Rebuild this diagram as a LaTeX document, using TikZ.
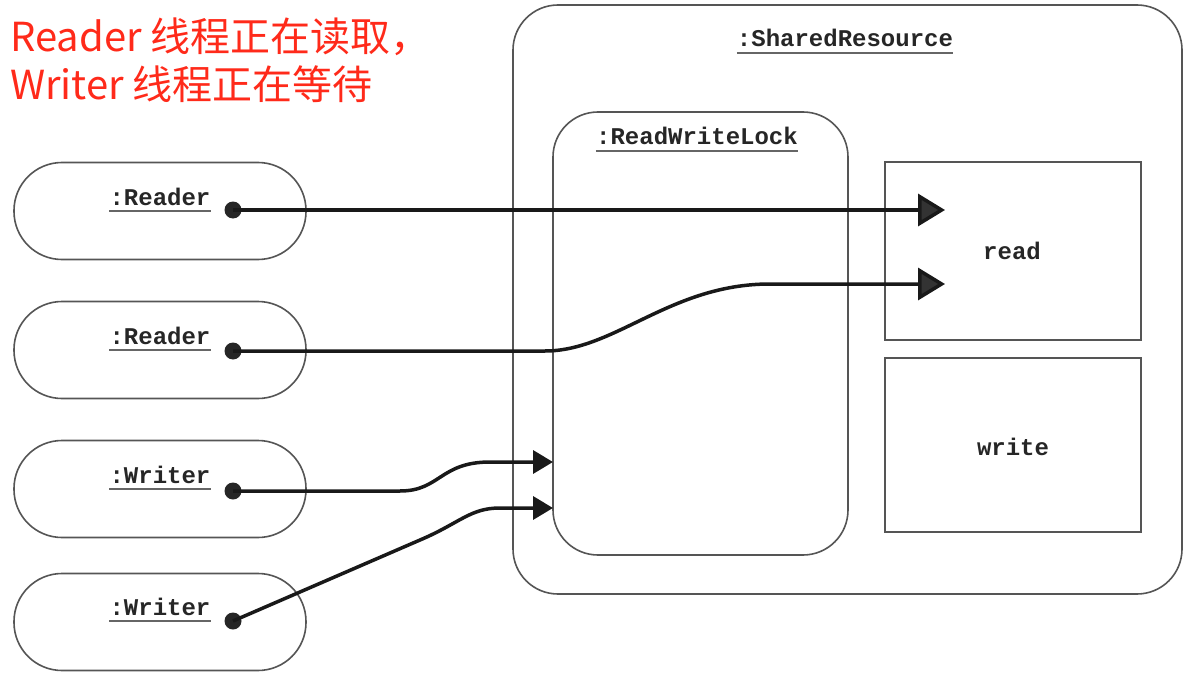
\documentclass[tikz,border=0pt]{standalone}
\usepackage{fontspec}
\newfontfamily\cjk{Noto Sans CJK SC}
\newfontfamily\monob{Liberation Mono}
\usetikzlibrary{arrows.meta}
\definecolor{redtxt}{HTML}{FF2A1A}
\definecolor{boxline}{HTML}{555555}
\definecolor{tipgray}{HTML}{333333}
\tikzset{
  boxstyle/.style={draw=boxline, line width=1.6pt, fill=none, inner sep=0pt},
  pill/.style={boxstyle, rounded corners=48pt, minimum width=292pt, minimum height=97pt},
  lbl/.style={font=\monob\bfseries\fontsize{24}{24}\selectfont, text=black!85, inner sep=0pt},
  uline/.style={draw=black!60, line width=1.6pt},
  dotn/.style={circle, fill=black!85, minimum size=17pt, inner sep=0pt},
  conn/.style={line width=3.5pt, black!90},
  bigtip/.style={conn, -{Triangle[length=27pt, width=32pt, fill=tipgray]}},
  smalltip/.style={conn, -{Triangle[length=20pt, width=23pt]}},
  redlbl/.style={font=\cjk\fontsize{40}{40}\selectfont, text=redtxt, inner sep=0pt, anchor=base west}
}
\begin{document}
\begin{tikzpicture}[x=1pt, y=-1pt]
\useasboundingbox (0,0) rectangle (1191,682);
\fill[white] (0,0) rectangle (1191,682);

% red title
\node[redlbl] (t1) at (10,52) {Reader 线程正在读取，};
\node[redlbl] (t2) at (10,100) {Writer 线程正在等待};

% shared resource
\node[boxstyle, rounded corners=45pt, minimum width=669pt, minimum height=589pt] (sr) at (847.5,299.5) {};
\node[lbl, anchor=base] (srl) at (845,47) {:SharedResource};
\draw[uline] ([yshift=-6pt]srl.base west) -- ([yshift=-6pt]srl.base east);

% read write lock
\node[boxstyle, rounded corners=45pt, minimum width=295pt, minimum height=443pt] (rwl) at (700.5,333.5) {};
\node[lbl, anchor=base] (rwll) at (697,145) {:ReadWriteLock};
\draw[uline] ([yshift=-6pt]rwll.base west) -- ([yshift=-6pt]rwll.base east);

% read / write boxes
\node[boxstyle, minimum width=256pt, minimum height=178pt] (rd) at (1013,251) {};
\node[lbl, anchor=base] (rdl) at (1012,259) {read};
\node[boxstyle, minimum width=256pt, minimum height=174pt] (wr) at (1013,445) {};
\node[lbl, anchor=base] (wrl) at (1013,455) {write};

% threads
\node[pill] (r1) at (160,211) {};
\node[pill] (r2) at (160,350) {};
\node[pill] (w1) at (160,489) {};
\node[pill] (w2) at (160,622) {};
\node[lbl, anchor=base] (r1l) at (160,205) {:Reader};
\node[lbl, anchor=base] (r2l) at (160,344) {:Reader};
\node[lbl, anchor=base] (w1l) at (160,483) {:Writer};
\node[lbl, anchor=base] (w2l) at (160,615) {:Writer};
\foreach \n in {r1l,r2l,w1l,w2l}{
  \draw[uline] ([yshift=-6pt]\n.base west) -- ([yshift=-6pt]\n.base east);
}
\node[dotn] (d1) at (233,210) {};
\node[dotn] (d2) at (233,351) {};
\node[dotn] (d3) at (233,491) {};
\node[dotn] (d4) at (233,621) {};

% targets
\coordinate (e1) at (945,210);
\coordinate (e2) at (945,284);
\coordinate (e3) at (553,462);
\coordinate (e4) at (553,508);

% connectors
\draw[bigtip] (d1.center) -- (e1);
\draw[bigtip] (d2.center) -- (545,351) .. controls (615,351) and (670,284) .. (770,284) -- (e2);
\draw[smalltip] (d3.center) -- (400,491) .. controls (440,491) and (440,462) .. (490,462) -- (e3);
\draw[smalltip] (d4.center) -- (420,540) .. controls (460,523) and (470,508) .. (500,508) -- (e4);
\end{tikzpicture}
\end{document}
